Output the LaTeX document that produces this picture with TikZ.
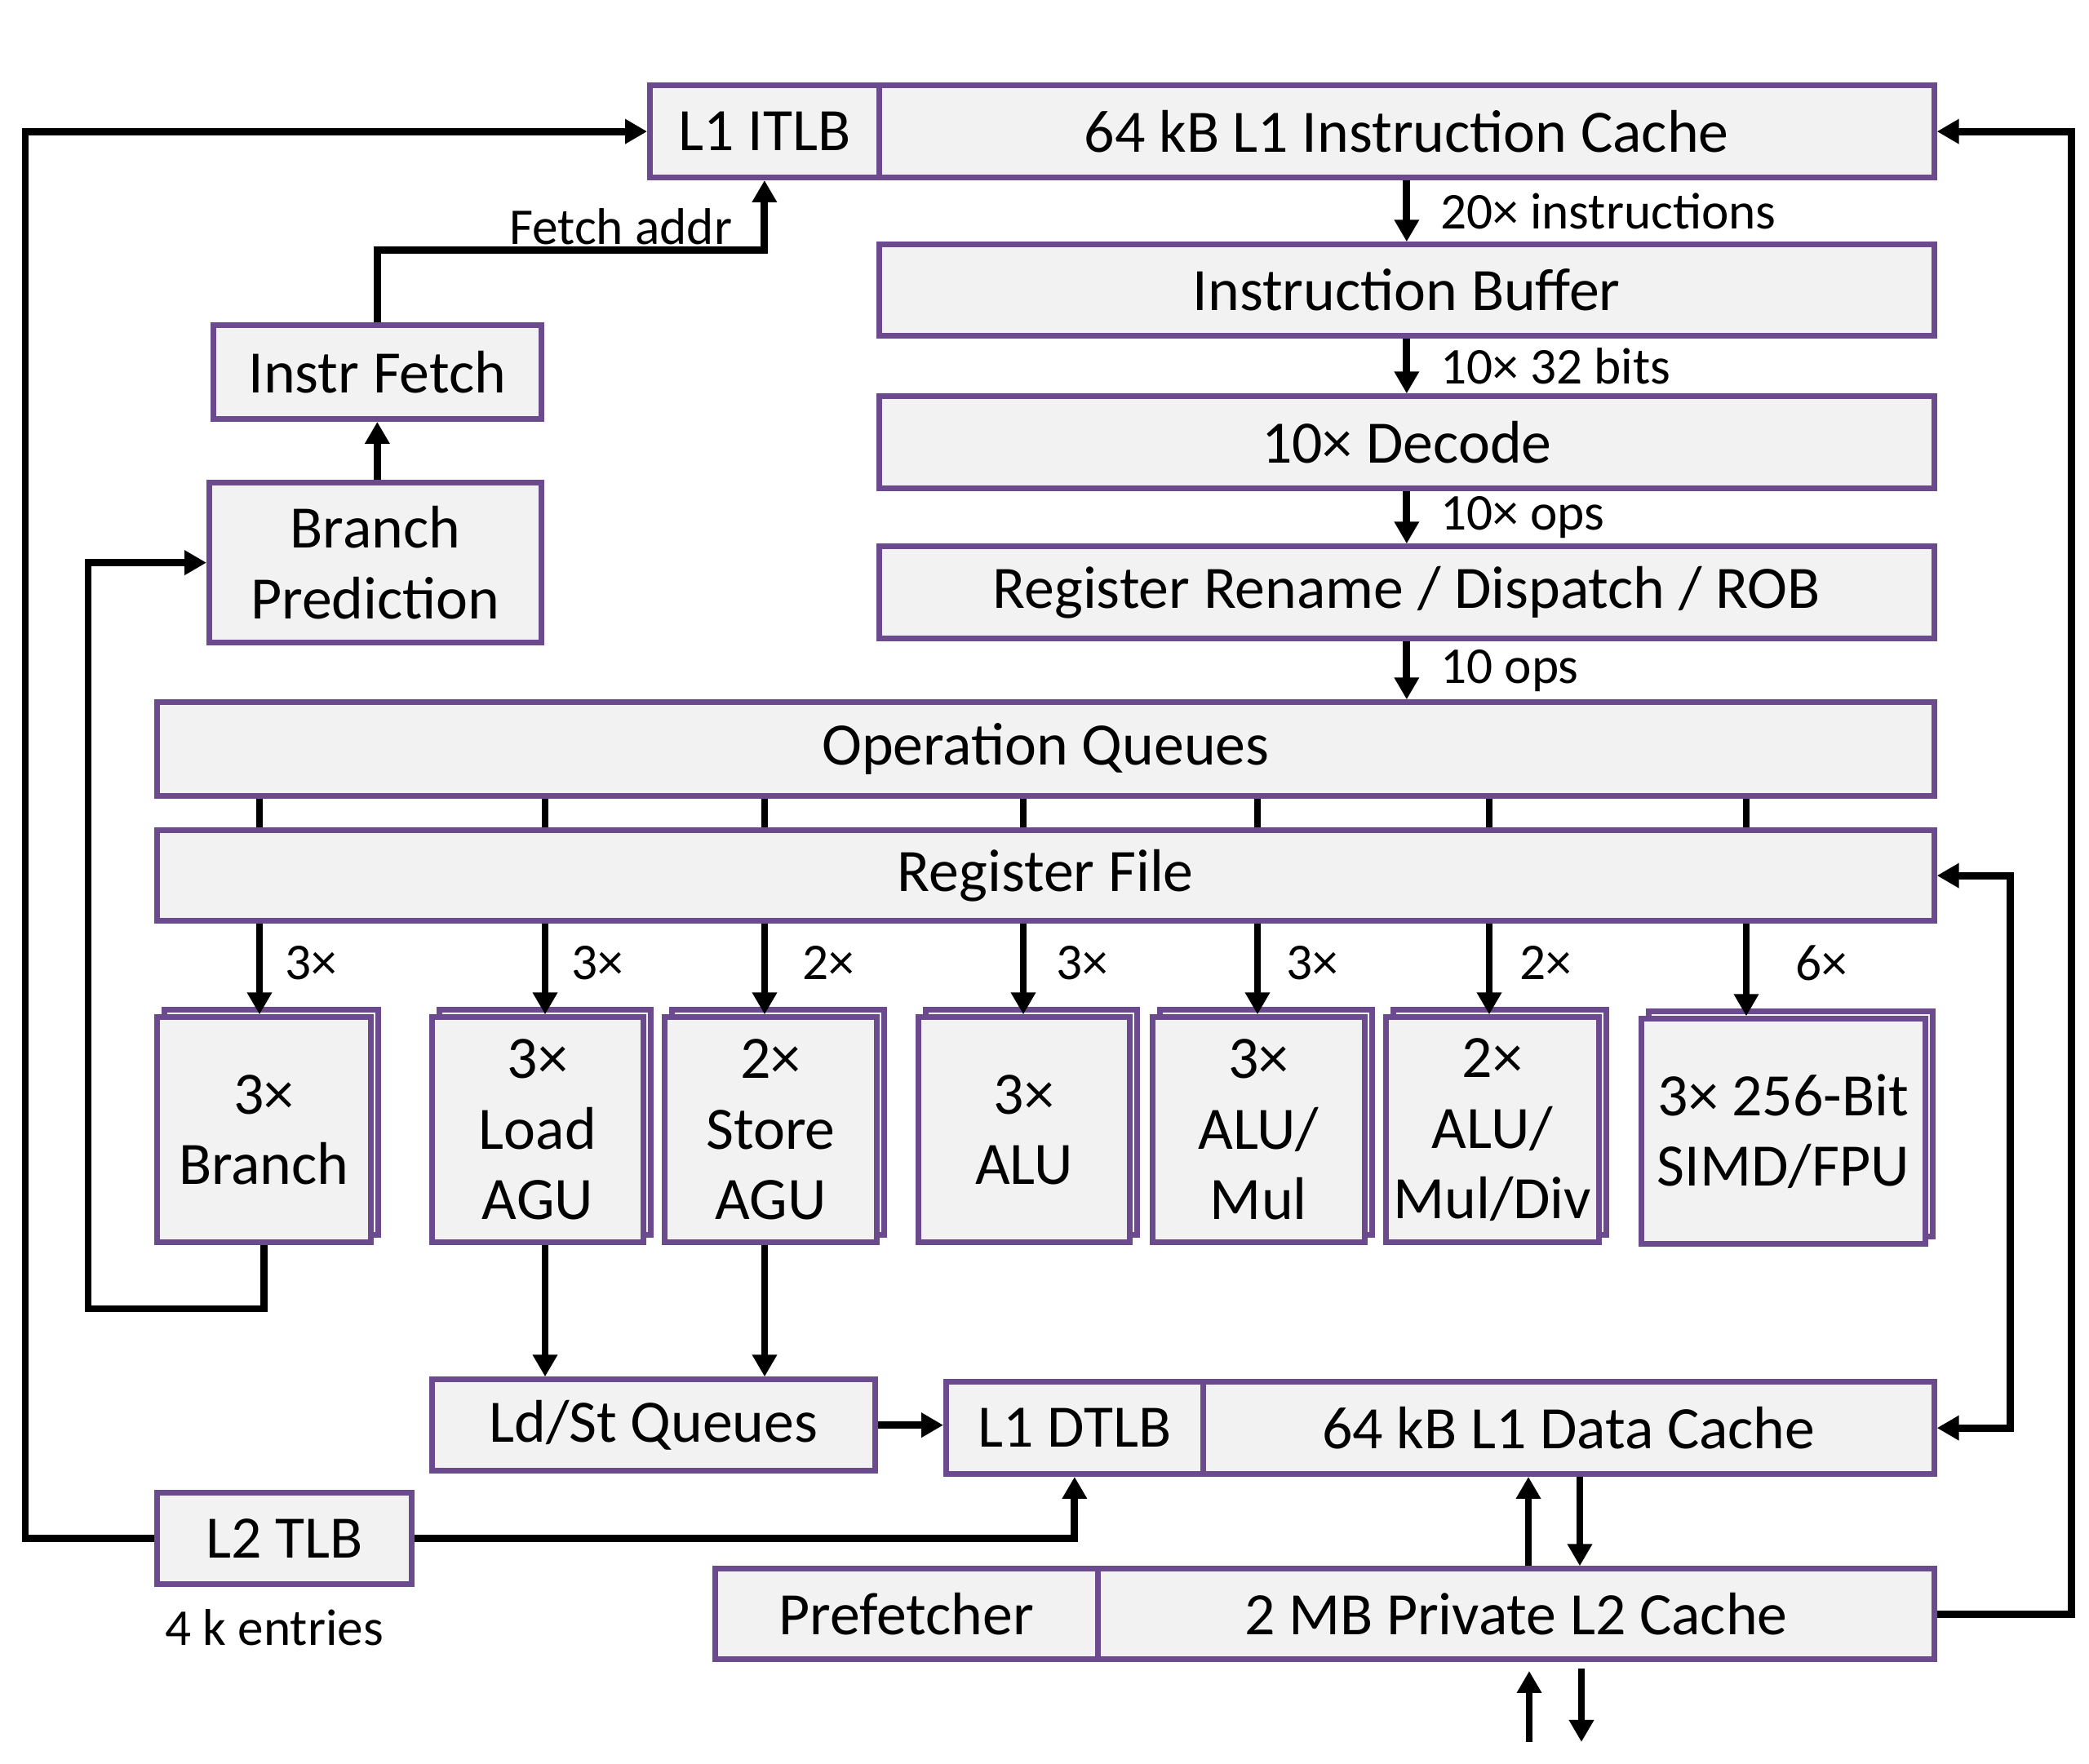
\documentclass[tikz,border=0pt]{standalone}
\usepackage{fontspec}
\setmainfont{Carlito}
\usetikzlibrary{arrows.meta, positioning, shadows}
\definecolor{cpupurple}{HTML}{6C4A8E}
\definecolor{cpugray}{HTML}{F2F2F2}

\tikzset{
  blk/.style={draw=cpupurple, fill=cpugray, line width=1.9pt, inner sep=0pt,
    align=center, anchor=south west, font=\fontsize{21}{24.6}\selectfont},
  stk/.style={blk, copy shadow={shadow xshift=0.09cm, shadow yshift=0.09cm,
    draw=cpupurple, fill=cpugray, line width=1.9pt}},
  arr/.style={line width=2.5pt, -{Triangle[width=0.29cm,length=0.27cm]}},
  dblarr/.style={line width=2.5pt,
    {Triangle[width=0.29cm,length=0.27cm]}-{Triangle[width=0.29cm,length=0.27cm]}},
  link/.style={line width=2.5pt},
  lbl/.style={font=\fontsize{18}{21}\selectfont, inner sep=0pt},
}

\begin{document}
\begin{tikzpicture}
	\useasboundingbox (0,0.04) rectangle (25.6,21.66);
	% front end
	\node[blk, minimum width=2.81cm, minimum height=1.13cm] (itlb) at (7.93,19.45) {L1 ITLB};
	\node[blk, minimum width=12.93cm, minimum height=1.13cm] (icache) at (10.74,19.45) {64 kB L1 Instruction Cache};
	\node[blk, minimum width=12.93cm, minimum height=1.12cm] (ibuf) at (10.74,17.51) {Instruction Buffer};
	\node[blk, minimum width=12.93cm, minimum height=1.13cm] (dec) at (10.74,15.64) {10× Decode};
	\node[blk, minimum width=12.93cm, minimum height=1.13cm] (ren) at (10.74,13.80) {Register Rename / Dispatch / ROB};
	\node[blk, minimum width=4.02cm, minimum height=1.15cm] (ifetch) at (2.58,16.49) {Instr Fetch};
	\node[blk, minimum width=4.07cm, minimum height=1.96cm] (bp) at (2.53,13.75) {Branch\\Prediction};
	\node[blk, minimum width=21.78cm, minimum height=1.15cm] (opq) at (1.89,11.87) {Operation Queues};
	\node[blk, minimum width=21.78cm, minimum height=1.11cm] (rf) at (1.89,10.34) {Register File};

	% execution units
	\node[stk, minimum width=2.62cm, minimum height=2.76cm] (br) at (1.89,6.40) {3×\\Branch};
	\node[stk, minimum width=2.59cm, minimum height=2.76cm] (ld) at (5.26,6.40) {3×\\Load\\AGU};
	\node[stk, minimum width=2.60cm, minimum height=2.76cm] (st) at (8.11,6.40) {2×\\Store\\AGU};
	\node[stk, minimum width=2.59cm, minimum height=2.76cm] (alu) at (11.22,6.40) {3×\\ALU};
	\node[stk, minimum width=2.60cm, minimum height=2.76cm] (mul) at (14.09,6.40) {3×\\ALU/\\Mul};
	\node[stk, minimum width=2.61cm, minimum height=2.76cm] (div) at (16.95,6.40) {2×\\ALU/\\Mul/Div};
	\node[stk, minimum width=3.48cm, minimum height=2.76cm] (simd) at (20.08,6.38) {3× 256-Bit\\SIMD/FPU};

	% memory side
	\node[blk, minimum width=5.43cm, minimum height=1.12cm] (ldst) at (5.26,3.60) {Ld/St Queues};
	\node[blk, minimum width=3.15cm, minimum height=1.13cm] (dtlb) at (11.56,3.56) {L1 DTLB};
	\node[blk, minimum width=8.96cm, minimum height=1.13cm] (dcache) at (14.71,3.56) {64 kB L1 Data Cache};
	\node[blk, minimum width=3.12cm, minimum height=1.12cm] (l2tlb) at (1.89,2.21) {L2 TLB};
	\node[blk, minimum width=4.69cm, minimum height=1.11cm] (pref) at (8.73,1.29) {Prefetcher};
	\node[blk, minimum width=10.25cm, minimum height=1.11cm] (l2) at (13.42,1.29) {2 MB Private L2 Cache};
	\node[lbl, anchor=base] (tlbent) at (3.36,1.49) {4 k entries};

	% pipeline
	\draw[arr] (icache.south) -- node[lbl, right=0.37cm] (l20) {20× instructions} (ibuf.north);
	\draw[arr] (ibuf.south) -- node[lbl, right=0.37cm] (l32) {10× 32 bits} (dec.north);
	\draw[arr] (dec.south) -- node[lbl, right=0.37cm] (lops) {10× ops} (ren.north);
	\draw[arr] (ren.south) -- node[lbl, right=0.37cm] (lops2) {10 ops} (ren.south |- opq.north);

	% fetch
	\draw[arr] (ifetch.south |- bp.north) -- (ifetch.south);
	\draw[arr] (ifetch.north) -- ++(0,0.89) -| (itlb.south);
	\node[lbl, anchor=base east] (faddr) at (8.98,18.66) {Fetch addr};

	% queues to register file
	\draw[link] (3.18,0 |- opq.south) -- (3.18,0 |- rf.north);
	\draw[link] (6.68,0 |- opq.south) -- (6.68,0 |- rf.north);
	\draw[link] (9.37,0 |- opq.south) -- (9.37,0 |- rf.north);
	\draw[link] (12.54,0 |- opq.south) -- (12.54,0 |- rf.north);
	\draw[link] (15.41,0 |- opq.south) -- (15.41,0 |- rf.north);
	\draw[link] (18.25,0 |- opq.south) -- (18.25,0 |- rf.north);
	\draw[link] (21.40,0 |- opq.south) -- (21.40,0 |- rf.north);

	% register file to units
	\draw[arr] (3.18,0 |- rf.south) -- node[lbl, pos=0.43, right=0.27cm] (n1) {3×} (3.18,0 |- br.north);
	\draw[arr] (6.68,0 |- rf.south) -- node[lbl, pos=0.43, right=0.28cm] (n2) {3×} (6.68,0 |- ld.north);
	\draw[arr] (9.37,0 |- rf.south) -- node[lbl, pos=0.43, right=0.42cm] (n3) {2×} (9.37,0 |- st.north);
	\draw[arr] (12.54,0 |- rf.south) -- node[lbl, pos=0.43, right=0.36cm] (n4) {3×} (12.54,0 |- alu.north);
	\draw[arr] (15.41,0 |- rf.south) -- node[lbl, pos=0.43, right=0.31cm] (n5) {3×} (15.41,0 |- mul.north);
	\draw[arr] (18.25,0 |- rf.south) -- node[lbl, pos=0.43, right=0.33cm] (n6) {2×} (18.25,0 |- div.north);
	\draw[arr] (21.40,0 |- rf.south) -- node[lbl, pos=0.43, right=0.56cm] (n7) {6×} (21.40,0 |- simd.north);

	% branch feedback
	\draw[arr] (br.south) |- (1.08,5.62) |- (bp.west);

	% load / store
	\draw[arr] (6.68,0 |- ld.south) -- (6.68,0 |- ldst.north);
	\draw[arr] (9.37,0 |- st.south) -- (9.37,0 |- ldst.north);
	\draw[arr] (ldst.east) -- (dtlb.west |- ldst.east);
	\draw[dblarr] (rf.east) -- ++(0.9,0) |- (dcache.east);

	% caches
	\draw[arr] (18.73,0 |- l2.north) -- (18.73,0 |- dcache.south);
	\draw[arr] (19.36,0 |- dcache.south) -- (19.36,0 |- l2.north);
	\coordinate (memup) at (18.74,0.31);
	\coordinate (memdn) at (19.38,0.31);
	\draw[arr] (memup) -- ++(0,0.87);
	\draw[arr] (19.38,1.21) -- (memdn);
	\draw[arr] (l2.east) -- ++(1.65,0) |- (icache.east);

	% TLB paths
	\draw[arr] (l2tlb.west) -- ++(-1.58,0) |- (itlb.west);
	\draw[arr] (l2tlb.east) -| (dtlb.south);
\end{tikzpicture}
\end{document}
